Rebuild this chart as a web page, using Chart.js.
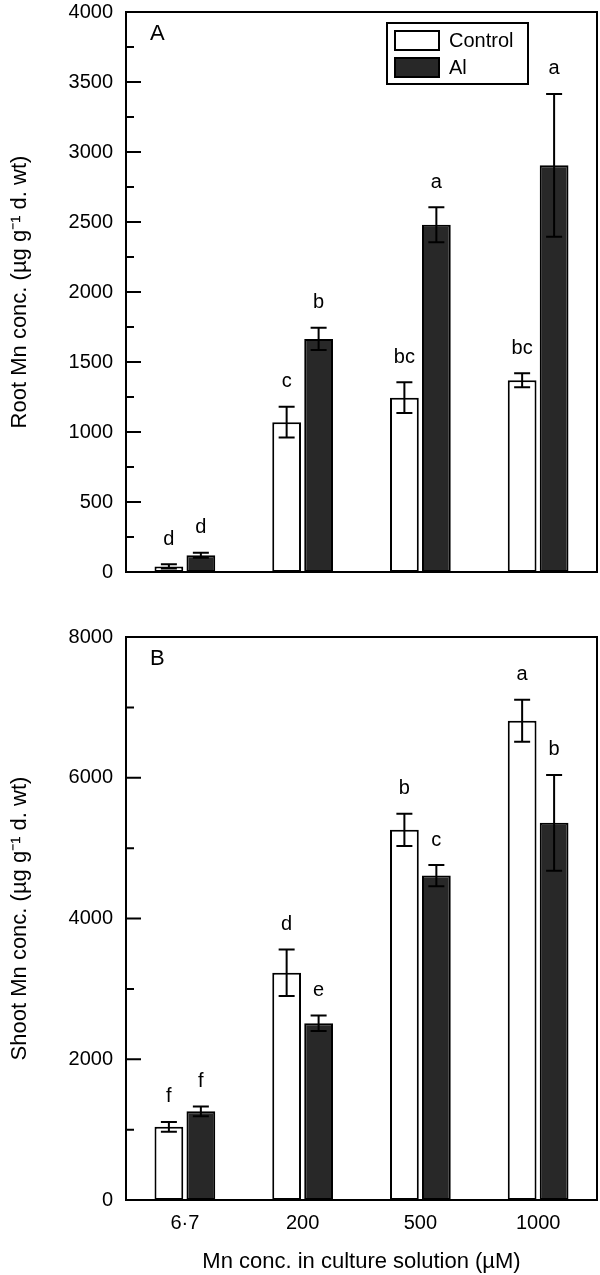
<!DOCTYPE html>
<html>
<head>
<meta charset="utf-8">
<script src="https://cdn.jsdelivr.net/npm/chart.js@4.4.1/dist/chart.umd.min.js"></script>
<style>
    html, body { margin: 0; padding: 0; background: #fff; }
    canvas { display: block; }
</style>
</head>
<body>
<canvas id="rootChart" width="600" height="620"></canvas>
<canvas id="shootChart" width="600" height="655"></canvas>
<script>
// Data
const categories = ["6·7", "200", "500", "1000"];

const rootControl = [40, 1070, 1245, 1370];
const rootControlErr = [15, 110, 110, 50];
const rootControlLetters = ["d", "c", "bc", "bc"];
const rootAl = [120, 1665, 2480, 2905];
const rootAlErr = [18, 80, 125, 510];
const rootAlLetters = ["d", "b", "a", "a"];

const shootControl = [1040, 3230, 5260, 6810];
const shootControlErr = [70, 330, 230, 300];
const shootControlLetters = ["f", "d", "b", "a"];
const shootAl = [1260, 2510, 4610, 5360];
const shootAlErr = [70, 110, 150, 680];
const shootAlLetters = ["f", "e", "c", "b"];

const fontFamily = "'Liberation Sans', Arial, Helvetica, sans-serif";
Chart.defaults.font.family = fontFamily;
Chart.defaults.color = "#000";

const darkFill = "#282828";

// Error bars, letters, frame, inward ticks, panel letter and legend
const panelDecor = {
    id: "panelDecor",
    afterDatasetsDraw(chart) {
        const ctx = chart.ctx;
        const y = chart.scales.y;
        ctx.save();
        ctx.strokeStyle = "#000";
        ctx.fillStyle = "#000";
        ctx.lineWidth = 2;
        ctx.font = "20px " + fontFamily;
        ctx.textAlign = "center";
        ctx.textBaseline = "middle";
        chart.data.datasets.forEach((ds, di) => {
            const meta = chart.getDatasetMeta(di);
            meta.data.forEach((bar, i) => {
                const top = y.getPixelForValue(ds.data[i] + ds.errors[i]);
                const bot = y.getPixelForValue(ds.data[i] - ds.errors[i]);
                ctx.beginPath();
                ctx.moveTo(bar.x, top);
                ctx.lineTo(bar.x, bot);
                ctx.moveTo(bar.x - 8, top);
                ctx.lineTo(bar.x + 8, top);
                ctx.moveTo(bar.x - 8, bot);
                ctx.lineTo(bar.x + 8, bot);
                ctx.stroke();
                ctx.fillText(ds.letters[i], bar.x, top - 25);
            });
        });
        ctx.restore();
    },
    afterDraw(chart, args, opts) {
        const ctx = chart.ctx;
        const area = chart.chartArea;
        const y = chart.scales.y;
        ctx.save();
        ctx.strokeStyle = "#000";
        ctx.lineWidth = 2;
        ctx.strokeRect(area.left, area.top, area.right - area.left, area.bottom - area.top);

        // inward ticks on the left axis
        ctx.beginPath();
        y.ticks.forEach((t) => {
            const py = y.getPixelForValue(t.value);
            const len = t.value % opts.majorStep === 0 ? 15 : 8;
            ctx.moveTo(area.left, py);
            ctx.lineTo(area.left + len, py);
        });
        ctx.stroke();

        // panel letter
        ctx.fillStyle = "#000";
        ctx.font = "22px " + fontFamily;
        ctx.textAlign = "left";
        ctx.textBaseline = "middle";
        ctx.fillText(opts.panel, area.left + 24, area.top + 22);

        if (opts.legend) {
            const bx = 387, by = 23, bw = 141, bh = 61;
            ctx.lineWidth = 2;
            ctx.strokeRect(bx, by, bw, bh);
            ctx.font = "20px " + fontFamily;
            chart.data.datasets.forEach((ds, di) => {
                const sy = by + 8 + di * 27;
                ctx.fillStyle = ds.backgroundColor;
                ctx.fillRect(bx + 8, sy, 44, 19);
                ctx.strokeRect(bx + 8, sy, 44, 19);
                ctx.fillStyle = "#000";
                ctx.fillText(ds.label, bx + 62, sy + 10);
            });
        }
        ctx.restore();
    },
};

function makeDatasets(ctrl, ctrlErr, ctrlLetters, al, alErr, alLetters) {
    return [
        {
            label: "Control",
            data: ctrl,
            errors: ctrlErr,
            letters: ctrlLetters,
            backgroundColor: "#ffffff",
            borderColor: "#000",
            borderWidth: 2,
            borderSkipped: false,
            barPercentage: 0.9,
            categoryPercentage: 0.543,
        },
        {
            label: "Al",
            data: al,
            errors: alErr,
            letters: alLetters,
            backgroundColor: darkFill,
            borderColor: "#000",
            borderWidth: 2,
            borderSkipped: false,
            barPercentage: 0.9,
            categoryPercentage: 0.543,
        },
    ];
}

function yScale(max, step, major, title) {
    return {
        min: 0,
        max: max,
        grid: { display: false, drawTicks: false },
        border: { display: false },
        ticks: {
            stepSize: step,
            autoSkip: false,
            padding: 13,
            font: { size: 20 },
            callback: (v) => (v % major === 0 ? v : ""),
        },
        title: {
            display: true,
            text: title,
            font: { size: 22 },
            padding: { top: 7, bottom: 0 },
        },
        afterFit(scale) {
            scale.width = 126;
            scale.paddingTop = 0;
            scale.paddingBottom = 0;
        },
    };
}

// A. Root Mn
new Chart(document.getElementById("rootChart").getContext("2d"), {
    type: "bar",
    data: {
        labels: categories,
        datasets: makeDatasets(rootControl, rootControlErr, rootControlLetters,
            rootAl, rootAlErr, rootAlLetters),
    },
    options: {
        responsive: false,
        animation: false,
        layout: { padding: { top: 12, right: 3, bottom: 48, left: 0 } },
        plugins: {
            legend: { display: false },
            tooltip: { enabled: false },
            panelDecor: { panel: "A", majorStep: 500, legend: true },
        },
        scales: {
            x: { display: false },
            y: yScale(4000, 250, 500, "Root Mn conc. (µg g⁻¹ d. wt)"),
        },
    },
    plugins: [panelDecor],
});

// B. Shoot Mn
new Chart(document.getElementById("shootChart").getContext("2d"), {
    type: "bar",
    data: {
        labels: categories,
        datasets: makeDatasets(shootControl, shootControlErr, shootControlLetters,
            shootAl, shootAlErr, shootAlLetters),
    },
    options: {
        responsive: false,
        animation: false,
        layout: { padding: { top: 17, right: 3, bottom: 0, left: 0 } },
        plugins: {
            legend: { display: false },
            tooltip: { enabled: false },
            panelDecor: { panel: "B", majorStep: 2000, legend: false },
        },
        scales: {
            x: {
                grid: { display: false, drawTicks: false },
                border: { display: false },
                ticks: { padding: 11, font: { size: 20 } },
                title: {
                    display: true,
                    text: "Mn conc. in culture solution (µM)",
                    font: { size: 22 },
                    padding: { top: 0, bottom: 0 },
                },
                afterFit(scale) {
                    scale.height = 75;
                },
            },
            y: yScale(8000, 1000, 2000, "Shoot Mn conc. (µg g⁻¹ d. wt)"),
        },
    },
    plugins: [panelDecor],
});
</script>
</body>
</html>
